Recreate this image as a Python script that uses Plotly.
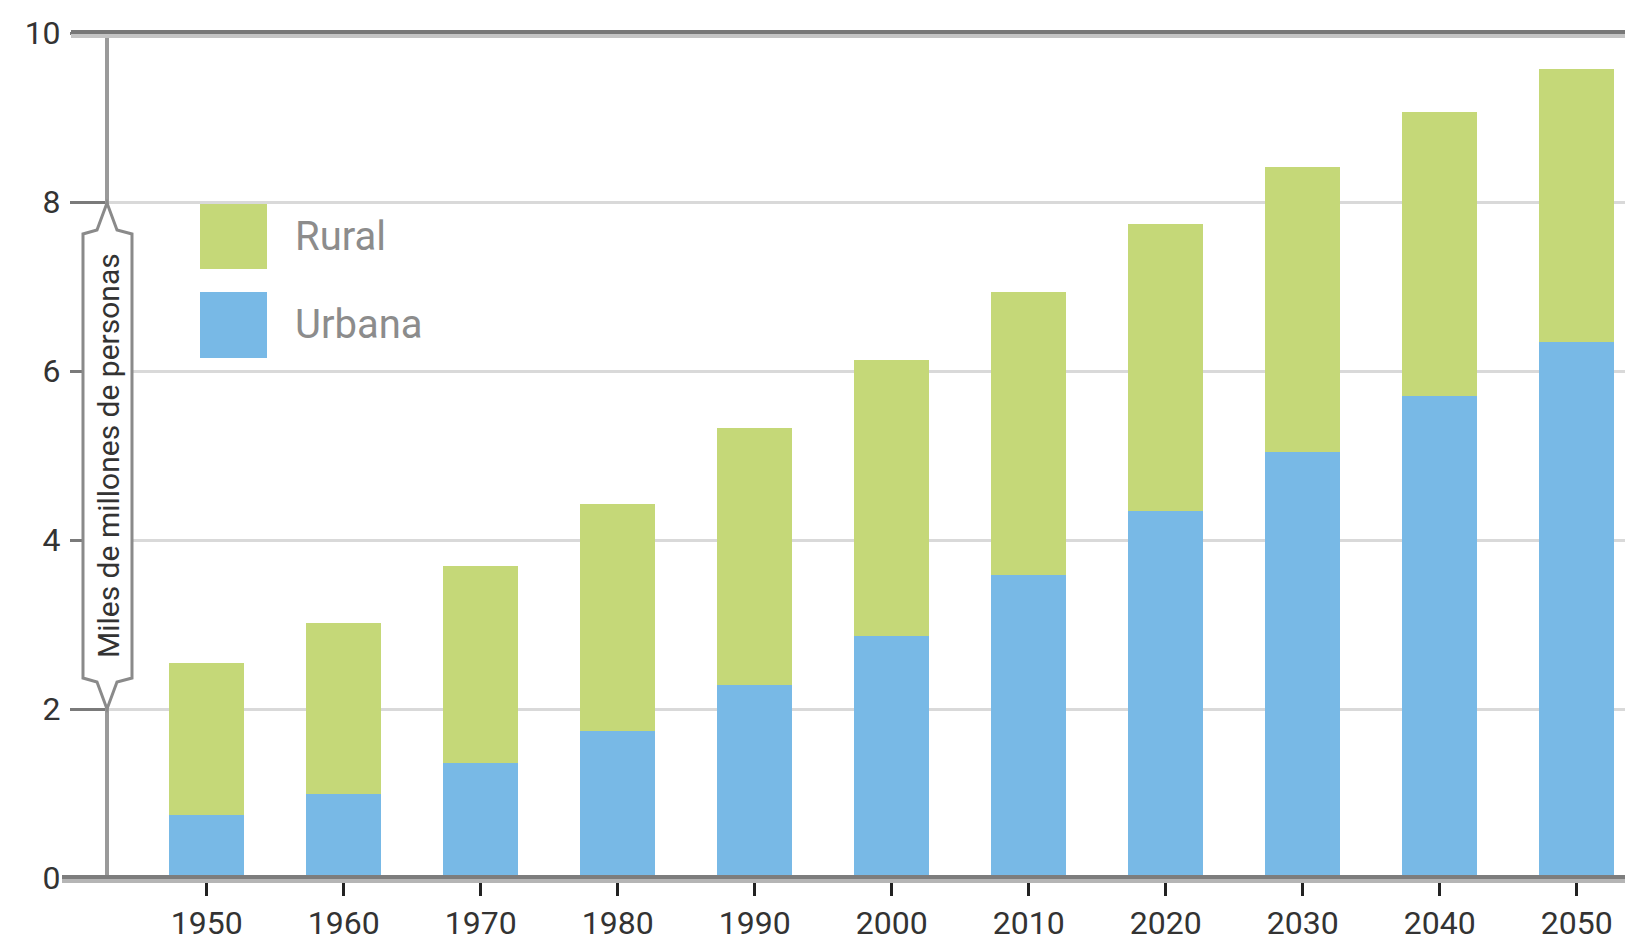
import plotly.graph_objects as go

# ---- data ----
years = [1950, 1960, 1970, 1980, 1990, 2000, 2010, 2020, 2030, 2040, 2050]
urbana = [0.75, 1.00, 1.36, 1.74, 2.29, 2.86, 3.58, 4.34, 5.04, 5.71, 6.34]
rural = [1.79, 2.02, 2.33, 2.69, 3.04, 3.27, 3.36, 3.40, 3.38, 3.35, 3.23]
series_names = ["Rural", "Urbana"]
y_ticks = [0, 2, 4, 6, 8, 10]
y_title = "Miles de millones de personas"

GREEN = "#C5D878"
BLUE = "#78B9E6"
FONT = "Roboto, sans-serif"

OFF = 8  # default page margin of the html body
W, H = 1633 - OFF, 941 - OFF
L, R, T = 107 - OFF, 0, 33 - OFF
BOTTOM = 878 - OFF
B = H - BOTTOM
PW = W - L - R
PH = BOTTOM - T


def px(x):
    """page x pixel -> paper x"""
    return (x - OFF - L) / PW


def py(y):
    """page y pixel -> paper y"""
    return (BOTTOM - (y - OFF)) / PH


fig = go.Figure()
fig.add_trace(go.Bar(x=years, y=urbana, name=series_names[1], marker_color=BLUE,
                     marker_line_width=0, width=5.47))
fig.add_trace(go.Bar(x=years, y=rural, name=series_names[0], marker_color=GREEN,
                     marker_line_width=0, width=5.47))

shapes = []
# white break in gridlines behind legend
shapes.append(dict(type="rect", xref="paper", yref="paper", layer="between",
                   x0=px(156), x1=px(486), y0=py(390), y1=py(185),
                   fillcolor="white", line_width=0))
# y axis line
shapes.append(dict(type="line", xref="paper", yref="paper", layer="above",
                   x0=px(107), x1=px(107), y0=py(878), y1=py(33),
                   line=dict(color="#9a9a9a", width=4)))
# top line (value 10)
shapes.append(dict(type="line", xref="paper", yref="paper", layer="above",
                   x0=px(71), x1=1, y0=py(36), y1=py(36), line=dict(color="#c4c4c4", width=4)))
shapes.append(dict(type="line", xref="paper", yref="paper", layer="above",
                   x0=px(71), x1=1, y0=py(32), y1=py(32), line=dict(color="#777777", width=4)))
# baseline
shapes.append(dict(type="line", xref="paper", yref="paper", layer="above",
                   x0=px(62), x1=1, y0=py(881), y1=py(881), line=dict(color="#b5b5b5", width=4)))
shapes.append(dict(type="line", xref="paper", yref="paper", layer="above",
                   x0=px(62), x1=1, y0=py(877), y1=py(877), line=dict(color="#7d7d7d", width=4)))
# y-title box
pts = [(107, 203), (97, 230), (83, 234), (83, 678), (97, 682), (107, 709),
       (117, 682), (132, 678), (132, 234), (117, 230)]
path = "M " + " L ".join(f"{px(a):.5f},{py(b):.5f}" for a, b in pts) + " Z"
shapes.append(dict(type="path", xref="paper", yref="paper", layer="above", path=path,
                   fillcolor="white", line=dict(color="#8a8a8a", width=3)))
# legend squares
shapes.append(dict(type="rect", xref="paper", yref="paper", layer="above",
                   x0=px(200), x1=px(267), y0=py(269), y1=py(204),
                   fillcolor=GREEN, line_width=0))
shapes.append(dict(type="rect", xref="paper", yref="paper", layer="above",
                   x0=px(200), x1=px(267), y0=py(358), y1=py(292),
                   fillcolor=BLUE, line_width=0))

annotations = [
    dict(x=px(108), y=py(456), xref="paper", yref="paper", text=y_title, textangle=-90,
         showarrow=False, font=dict(family=FONT, size=30, color="#333333"),
         xanchor="center", yanchor="middle"),
    dict(x=px(293), y=py(237), xref="paper", yref="paper", text=series_names[0],
         showarrow=False, font=dict(family=FONT, size=40, color="#8c8c8c"),
         xanchor="left", yanchor="middle"),
    dict(x=px(293), y=py(324), xref="paper", yref="paper", text=series_names[1],
         showarrow=False, font=dict(family=FONT, size=40, color="#8c8c8c"),
         xanchor="left", yanchor="middle"),
]

fig.update_layout(
    width=W, height=H,
    margin=dict(l=L, r=R, t=T, b=B, pad=0),
    barmode="stack",
    showlegend=False,
    plot_bgcolor="white", paper_bgcolor="white",
    shapes=shapes, annotations=annotations,
    font=dict(family=FONT, color="#333333"),
)
fig.update_xaxes(range=[1942.72, 2054.1], tickvals=years, ticktext=[str(y) for y in years],
                 showgrid=False, zeroline=False, showline=False,
                 ticks="outside", ticklen=17, tickwidth=3, tickcolor="#222222",
                 tickfont=dict(family=FONT, size=32, color="#333333"))
fig.update_yaxes(range=[0, 10], tickvals=y_ticks, showgrid=True, gridcolor="#d9d9d9", gridwidth=3,
                 zeroline=False, showline=False,
                 ticks="outside", ticklen=36, tickwidth=3, tickcolor="#7a7a7a",
                 ticklabelstandoff=3,
                 tickfont=dict(family=FONT, size=32, color="#333333"))

fig.write_html("out.html")
